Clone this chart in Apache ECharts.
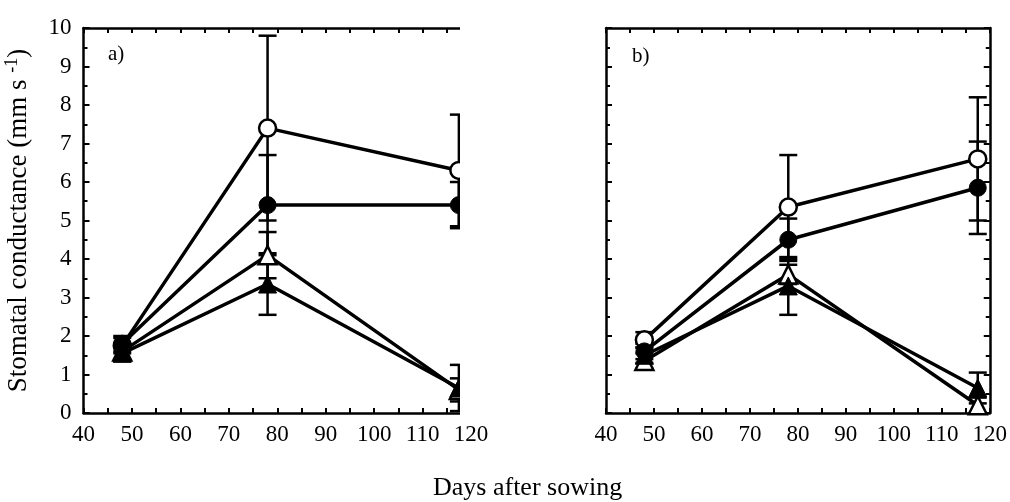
<!DOCTYPE html>
<html>
<head>
<meta charset="utf-8">
<script src="https://cdn.jsdelivr.net/npm/echarts@6/dist/echarts.min.js"></script>
<style>
  html, body { margin: 0; padding: 0; background: #fff; }
  #chart { width: 1010px; height: 502px; }
</style>
</head>
<body>
<div id="chart"></div>
<script>
  // sampling days (last sample sits a bit before the 120 tick in both panels)
  const days = [48, 78, 117.5];
  const xTicks = [40, 50, 60, 70, 80, 90, 100, 110, 120];

  // panel a
  const aOpenCircle = [1.75, 7.4, 6.3];
  const aOpenCircleErr = [0.2, 2.4, 1.45];
  const aFilledCircle = [1.8, 5.4, 5.4];
  const aFilledCircleErr = [0.2, 1.3, 0.6];
  const aOpenTri = [1.6, 4.1, 0.6];
  const aOpenTriErr = [0.2, 0.6, 0.3];
  const aFilledTri = [1.55, 3.35, 0.65];
  const aFilledTriErr = [0.2, 0.8, 0.6];

  // panel b
  const bOpenCircle = [1.9, 5.35, 6.6];
  const bOpenCircleErr = [0.2, 1.35, 1.6];
  const bFilledCircle = [1.6, 4.5, 5.85];
  const bFilledCircleErr = [0.2, 0.55, 1.2];
  const bOpenTri = [1.35, 3.6, 0.2];
  const bOpenTriErr = [0.2, 0.25, 0.2];
  const bFilledTri = [1.5, 3.3, 0.65];
  const bFilledTriErr = [0.2, 0.75, 0.4];

  const FONT = 'Liberation Serif';

  function pairs(vals) {
    return days.map((d, i) => [d, vals[i]]);
  }
  function errs(vals, e) {
    return days.map((d, i) => [d, vals[i] - e[i], vals[i] + e[i]]);
  }

  function lineSeries(vals, symbol, open, axis) {
    return {
      type: 'line',
      xAxisIndex: axis, yAxisIndex: axis,
      data: pairs(vals),
      symbol: symbol,
      symbolSize: symbol === 'circle' ? 17 : 18,
      lineStyle: { color: '#000', width: 3.5 },
      itemStyle: open ? { color: '#fff', borderColor: '#000', borderWidth: 2.5 } : { color: '#000', borderColor: '#000', borderWidth: 1 },
      z: 3,
      animation: false
    };
  }

  function errSeries(vals, e, axis) {
    return {
      type: 'custom',
      xAxisIndex: axis, yAxisIndex: axis,
      data: errs(vals, e),
      z: 2,
      renderItem: function (params, api) {
        const lo = api.coord([api.value(0), api.value(1)]);
        const hi = api.coord([api.value(0), api.value(2)]);
        const w = 9;
        const st = { stroke: '#000', lineWidth: 2.5 };
        return {
          type: 'group',
          children: [
            { type: 'line', shape: { x1: lo[0], y1: lo[1], x2: hi[0], y2: hi[1] }, style: st },
            { type: 'line', shape: { x1: lo[0] - w, y1: lo[1], x2: lo[0] + w, y2: lo[1] }, style: st },
            { type: 'line', shape: { x1: hi[0] - w, y1: hi[1], x2: hi[0] + w, y2: hi[1] }, style: st }
          ]
        };
      },
      animation: false
    };
  }

  const axisLine = { show: true, onZero: false, lineStyle: { color: '#000', width: 2.5 } };

  function xAxisDef(grid, pos, labels) {
    return {
      type: 'value', gridIndex: grid, position: pos,
      min: 40, max: 120, interval: 10,
      axisLine: axisLine,
      axisTick: { show: true, inside: true, length: 5, lineStyle: { color: '#000', width: 2 } },
      minorTick: { show: true, splitNumber: 2, length: 5, lineStyle: { color: '#000', width: 2 } },
      axisLabel: {
        show: labels, color: '#000', fontFamily: FONT, fontSize: 23, margin: 10,
        formatter: v => xTicks.indexOf(v) >= 0 ? String(v) : ''
      },
      splitLine: { show: false }
    };
  }

  function yAxisDef(grid, pos, labels) {
    return {
      type: 'value', gridIndex: grid, position: pos,
      min: 0, max: 10, interval: 1,
      axisLine: axisLine,
      axisTick: { show: true, inside: true, length: 6, lineStyle: { color: '#000', width: 2 } },
      minorTick: { show: true, splitNumber: 2, length: 4, lineStyle: { color: '#000', width: 2 } },
      axisLabel: { show: labels, color: '#000', fontFamily: FONT, fontSize: 23, margin: 12 },
      splitLine: { show: false }
    };
  }

  const yA = yAxisDef(0, 'left', true);
  yA.name = '{a|Stomatal conductance (mm s }{s|-1}{a|)}';
  yA.nameLocation = 'middle';
  yA.nameGap = 50;
  yA.nameTextStyle = {
    rich: {
      a: { fontFamily: FONT, fontSize: 27, color: '#000' },
      s: { fontFamily: FONT, fontSize: 18, color: '#000', padding: [0, 0, 12, 0] }
    }
  };

  const chart = echarts.init(document.getElementById('chart'));
  chart.setOption({
    animation: false,
    grid: [
      { left: 83.5, top: 28, width: 387.5, height: 385 },
      { left: 606, top: 28, width: 388, height: 385 }
    ],
    xAxis: [
      xAxisDef(0, 'bottom', true), xAxisDef(0, 'top', false),
      xAxisDef(1, 'bottom', true), xAxisDef(1, 'top', false)
    ],
    yAxis: [
      yA, yAxisDef(0, 'right', false),
      yAxisDef(1, 'left', false), yAxisDef(1, 'right', false)
    ],
    graphic: [
      // the scan of panel a is cut off at its right edge
      { type: 'rect', shape: { x: 460, y: 15, width: 100, height: 403 }, style: { fill: '#fff' }, z: 100 },
      { type: 'text', left: 108, top: 44, style: { text: 'a)', font: '21px "Liberation Serif"', fill: '#000' }, z: 101 },
      { type: 'text', left: 632, top: 46, style: { text: 'b)', font: '21px "Liberation Serif"', fill: '#000' }, z: 101 },
      { type: 'text', left: 433, top: 475, style: { text: 'Days after sowing', font: '26px "Liberation Serif"', fill: '#000' }, z: 101 }
    ],
    // open symbols first so the filled ones sit on top where they overlap
    series: [
      errSeries(aOpenCircle, aOpenCircleErr, 0),
      errSeries(aFilledCircle, aFilledCircleErr, 0),
      errSeries(aOpenTri, aOpenTriErr, 0),
      errSeries(aFilledTri, aFilledTriErr, 0),
      lineSeries(aOpenCircle, 'circle', true, 0),
      lineSeries(aOpenTri, 'triangle', true, 0),
      lineSeries(aFilledCircle, 'circle', false, 0),
      lineSeries(aFilledTri, 'triangle', false, 0),

      errSeries(bOpenCircle, bOpenCircleErr, 2),
      errSeries(bFilledCircle, bFilledCircleErr, 2),
      errSeries(bOpenTri, bOpenTriErr, 2),
      errSeries(bFilledTri, bFilledTriErr, 2),
      lineSeries(bOpenCircle, 'circle', true, 2),
      lineSeries(bOpenTri, 'triangle', true, 2),
      lineSeries(bFilledCircle, 'circle', false, 2),
      lineSeries(bFilledTri, 'triangle', false, 2)
    ]
  });
</script>
</body>
</html>
